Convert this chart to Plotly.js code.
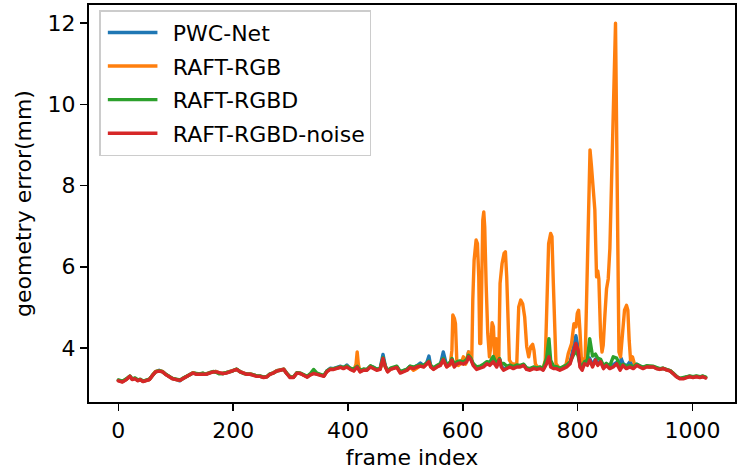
<!DOCTYPE html>
<html>
<head>
<meta charset="utf-8">
<script src="https://cdn.plot.ly/plotly-3.0.1.min.js"></script>
<style>
  html, body { margin: 0; padding: 0; background: white; }
  .scatterlayer .js-line { stroke-linejoin: round; stroke-linecap: round; }
  .legend .legendlines { transform: translateX(3px) scaleX(0.8); }
</style>
</head>
<body>
<div id="chart" style="width:747px;height:474px;"></div>
<script>
// Shared frame grid for PWC-Net, RAFT-RGBD and RAFT-RGBD-noise
const frames = [0,7,14,20,24,29,34,38,43,49,54,60,65,71,77,82,88,94,101,107,112,118,124,130,136,141,147,153,159,165,170,176,182,188,194,199,206,212,218,224,230,235,241,247,253,259,264,270,276,282,288,293,299,305,311,317,323,329,334,340,346,352,358,363,369,375,381,387,392,398,404,410,416,421,427,433,439,445,450,456,461,465,469,474,479,485,491,497,503,508,514,520,526,532,537,541,544,549,555,561,566,572,578,581,585,590,595,601,607,610,614,618,624,630,636,642,647,653,659,664,667,671,677,682,688,694,700,706,711,717,723,729,735,740,746,750,753,758,763,769,775,781,787,792,797,801,804,808,812,817,821,826,831,835,840,845,850,856,862,868,874,876,879,885,891,897,903,908,914,920,926,932,937,943,949,955,961,966,972,978,984,990,995,1001,1007,1013,1018,1023];

const raftRgbdNoise = [3.19,3.16,3.22,3.30,3.22,3.24,3.19,3.22,3.17,3.20,3.22,3.33,3.41,3.43,3.41,3.35,3.29,3.24,3.22,3.20,3.24,3.29,3.33,3.38,3.35,3.35,3.37,3.35,3.38,3.41,3.41,3.38,3.37,3.38,3.41,3.43,3.47,3.41,3.37,3.35,3.35,3.33,3.30,3.30,3.27,3.29,3.35,3.38,3.43,3.45,3.47,3.37,3.27,3.27,3.38,3.37,3.32,3.28,3.33,3.37,3.35,3.33,3.30,3.41,3.47,3.47,3.49,3.52,3.49,3.53,3.47,3.43,3.53,3.41,3.45,3.45,3.53,3.49,3.45,3.47,3.74,3.53,3.41,3.47,3.49,3.52,3.38,3.41,3.45,3.52,3.49,3.53,3.55,3.53,3.60,3.66,3.53,3.47,3.53,3.57,3.71,3.53,3.61,3.70,3.53,3.61,3.63,3.60,3.66,3.78,3.71,3.57,3.47,3.49,3.53,3.61,3.57,3.66,3.53,3.71,3.53,3.45,3.49,3.53,3.49,3.53,3.53,3.57,3.47,3.45,3.49,3.47,3.49,3.45,3.61,3.78,3.53,3.49,3.49,3.45,3.49,3.53,3.61,3.86,4.11,3.94,3.53,3.45,3.61,3.57,3.70,3.53,3.70,3.57,3.66,3.49,3.57,3.49,3.53,3.61,3.45,3.50,3.57,3.49,3.53,3.49,3.57,3.53,3.49,3.53,3.52,3.53,3.49,3.47,3.49,3.45,3.43,3.37,3.29,3.24,3.24,3.27,3.29,3.27,3.29,3.27,3.29,3.26];

const pwcNet = [3.20,3.17,3.23,3.30,3.23,3.25,3.20,3.22,3.18,3.21,3.22,3.34,3.42,3.45,3.42,3.35,3.29,3.25,3.22,3.19,3.24,3.29,3.34,3.39,3.36,3.35,3.37,3.36,3.39,3.41,3.42,3.38,3.37,3.39,3.41,3.44,3.47,3.42,3.38,3.35,3.36,3.33,3.31,3.30,3.28,3.29,3.35,3.39,3.44,3.46,3.48,3.38,3.28,3.28,3.39,3.37,3.33,3.29,3.34,3.38,3.36,3.34,3.31,3.43,3.50,3.49,3.52,3.55,3.51,3.58,3.49,3.45,3.58,3.43,3.47,3.46,3.55,3.52,3.47,3.50,3.84,3.56,3.43,3.49,3.50,3.54,3.41,3.43,3.47,3.55,3.51,3.56,3.63,3.56,3.63,3.80,3.56,3.50,3.55,3.60,3.90,3.56,3.63,3.72,3.58,3.64,3.66,3.63,3.70,3.90,3.73,3.60,3.50,3.52,3.56,3.63,3.60,3.68,3.56,3.73,3.56,3.48,3.52,3.55,3.51,3.55,3.55,3.59,3.50,3.48,3.52,3.50,3.51,3.47,3.64,3.85,3.56,3.52,3.51,3.48,3.52,3.56,3.65,3.95,4.30,4.00,3.58,3.50,3.64,3.60,3.75,3.58,3.73,3.62,3.69,3.53,3.60,3.53,3.58,3.64,3.60,3.74,3.62,3.55,3.66,3.53,3.60,3.55,3.51,3.55,3.53,3.54,3.50,3.48,3.50,3.46,3.44,3.38,3.30,3.25,3.25,3.28,3.30,3.28,3.30,3.28,3.30,3.27];

const raftRgbd = [3.21,3.18,3.24,3.31,3.24,3.26,3.21,3.23,3.18,3.21,3.23,3.33,3.41,3.44,3.41,3.36,3.30,3.25,3.23,3.21,3.25,3.30,3.33,3.38,3.37,3.36,3.38,3.35,3.39,3.42,3.40,3.36,3.37,3.39,3.42,3.43,3.48,3.41,3.37,3.36,3.34,3.34,3.31,3.31,3.28,3.30,3.36,3.38,3.43,3.45,3.47,3.38,3.29,3.28,3.39,3.38,3.34,3.30,3.36,3.47,3.38,3.35,3.32,3.43,3.48,3.49,3.51,3.53,3.52,3.55,3.50,3.48,3.55,3.45,3.48,3.47,3.56,3.51,3.48,3.49,3.76,3.55,3.44,3.50,3.52,3.55,3.42,3.45,3.48,3.55,3.53,3.56,3.58,3.57,3.62,3.68,3.57,3.51,3.57,3.62,3.74,3.58,3.65,3.74,3.60,3.66,3.68,3.65,3.72,3.82,3.75,3.62,3.53,3.55,3.60,3.66,3.65,3.79,3.60,3.74,3.60,3.62,3.55,3.58,3.54,3.58,3.57,3.60,3.51,3.49,3.53,3.51,3.53,3.50,3.75,4.23,3.70,3.55,3.54,3.50,3.54,3.58,3.66,3.80,3.95,3.80,3.60,3.55,3.66,3.70,4.23,3.80,3.85,3.75,3.72,3.56,3.62,3.56,3.78,3.75,3.55,3.56,3.60,3.55,3.57,3.53,3.60,3.56,3.53,3.56,3.55,3.55,3.52,3.49,3.50,3.47,3.44,3.38,3.30,3.25,3.26,3.29,3.31,3.29,3.31,3.29,3.31,3.28];

// RAFT-RGB has its own, denser frame grid around the spikes
const rgbFrames = [0,7,14,20,24,29,34,38,43,49,54,60,65,71,77,82,88,94,101,107,112,118,124,130,136,141,147,153,159,165,170,176,182,188,194,199,206,212,218,224,230,235,241,247,253,259,264,270,276,282,288,293,299,305,311,317,323,329,334,340,346,352,358,363,369,375,381,387,392,398,404,410,414,416,418,421,427,433,439,445,450,456,461,465,469,474,479,485,491,497,503,508,514,520,526,532,537,541,544,549,555,561,566,572,578,581,582.6,585.5,587.2,589.5,592.4,597,601,605,610,614,615.6,617.4,619.7,623.2,625.5,627.8,629.5,631.3,632.4,634.8,636.5,638.2,640.6,643.5,646.4,648.7,651,653.3,655.6,658,660.3,662.6,664.9,668.4,671.9,674.2,676.5,678.8,681.1,685.2,691,693.9,697.4,700.9,704.3,707.8,711.3,714.8,718.2,721.7,724,726.4,729.8,735,740,743.7,746,749.5,753,755.3,757.7,760,762.3,766.4,770,775,780,783.7,789.5,793.6,797.1,799.4,801.7,804,806.4,809.8,813.3,815.6,818,820,821.6,824,827,830,833,835,837,840,842.5,844.6,847.5,850.4,853.3,856.2,859.1,862,864,866,872,874.8,878.2,881.7,885.2,887.5,889.8,892.2,895.6,899.7,903,908,914,920,926,932,937,943,949,955,961,966,972,978,984,990,995,1001,1007,1013,1018,1023];

const raftRgb = [3.20,3.17,3.23,3.30,3.23,3.25,3.20,3.22,3.18,3.21,3.22,3.34,3.42,3.44,3.42,3.35,3.29,3.25,3.22,3.20,3.24,3.29,3.34,3.39,3.36,3.35,3.37,3.36,3.39,3.41,3.42,3.38,3.37,3.39,3.41,3.44,3.47,3.42,3.38,3.35,3.36,3.33,3.31,3.30,3.28,3.29,3.35,3.39,3.44,3.46,3.48,3.38,3.28,3.28,3.39,3.37,3.33,3.29,3.34,3.38,3.36,3.34,3.31,3.42,3.48,3.48,3.50,3.53,3.50,3.55,3.48,3.44,3.60,3.90,3.60,3.42,3.46,3.46,3.54,3.50,3.46,3.48,3.70,3.54,3.42,3.48,3.50,3.53,3.40,3.42,3.46,3.53,3.45,3.50,3.56,3.54,3.61,3.66,3.54,3.48,3.54,3.58,3.70,3.54,3.58,3.94,4.81,4.72,4.60,3.70,3.57,3.62,3.78,3.60,3.90,3.75,3.70,5.18,6.16,6.66,6.57,5.75,4.11,4.11,5.17,7.15,7.35,6.98,5.59,4.35,3.78,4.03,4.62,4.52,3.78,4.23,3.61,3.70,5.59,6.08,6.33,6.37,5.75,4.35,3.70,3.61,3.60,3.57,5.01,5.18,5.09,4.76,4.03,3.78,4.03,4.09,3.94,3.61,3.53,3.52,3.50,3.70,5.18,6.57,6.82,6.74,5.59,4.35,3.61,3.53,3.50,3.52,3.60,3.86,4.11,4.60,4.52,4.85,4.93,4.44,3.78,3.61,3.78,5.18,6.82,8.30,8.88,8.50,7.95,7.40,5.75,5.90,5.70,4.30,3.90,4.07,4.80,5.46,5.70,6.45,8.10,9.74,11.30,12.00,3.90,3.78,4.35,4.93,5.05,4.93,4.19,3.70,3.78,3.57,3.58,3.55,3.51,3.55,3.53,3.54,3.50,3.48,3.50,3.46,3.44,3.38,3.30,3.25,3.25,3.28,3.30,3.28,3.30,3.28,3.30,3.27];

const seriesNames = ['PWC-Net', 'RAFT-RGB', 'RAFT-RGBD', 'RAFT-RGBD-noise'];
const xTickVals = [0, 200, 400, 600, 800, 1000];
const yTickVals = [4, 6, 8, 10, 12];

const colors = ['#1f77b4', '#ff7f0e', '#2ca02c', '#d62728'];
const xs = [frames, rgbFrames, frames, frames];
const ys = [pwcNet, raftRgb, raftRgbd, raftRgbdNoise];

const traces = seriesNames.map((name, i) => ({
  type: 'scatter',
  mode: 'lines',
  name: name,
  legendgroup: 'g' + i,
  x: xs[i],
  y: ys[i],
  line: { color: colors[i], width: 3.4 },
  hoverinfo: 'skip'
}));

const layout = {
  width: 747,
  height: 474,
  margin: { l: 89, r: 12, t: 5, b: 72, pad: 0 },
  paper_bgcolor: 'white',
  plot_bgcolor: 'white',
  font: { family: 'DejaVu Sans, sans-serif', size: 22, color: 'black' },
  showlegend: true,
  legend: {
    x: 0.016, y: 0.987, xanchor: 'left', yanchor: 'top',
    traceorder: 'grouped', tracegroupgap: 2,
    itemwidth: 62,
    bgcolor: 'rgba(255,255,255,0.8)',
    bordercolor: '#cccccc', borderwidth: 1.5,
    font: { family: 'DejaVu Sans, sans-serif', size: 22, color: 'black' }
  },
  xaxis: {
    range: [-51.15, 1074.15],
    tickvals: xTickVals,
    ticktext: xTickVals.map(String),
    ticks: 'outside', ticklen: 7.5, tickwidth: 1.6, tickcolor: 'black',
    showline: true, linewidth: 1.7, linecolor: 'black', mirror: true,
    showgrid: false, zeroline: false,
    title: { text: 'frame index', font: { size: 22 }, standoff: 8 }
  },
  yaxis: {
    range: [2.668, 12.45],
    tickvals: yTickVals,
    ticktext: yTickVals.map(String),
    ticks: 'outside', ticklen: 7.5, tickwidth: 1.6, tickcolor: 'black',
    showline: true, linewidth: 1.7, linecolor: 'black', mirror: true,
    showgrid: false, zeroline: false,
    title: { text: 'geometry error(mm)', font: { size: 22 }, standoff: 10 }
  }
};

Plotly.newPlot('chart', traces, layout, { staticPlot: true, displayModeBar: false });
</script>
</body>
</html>
